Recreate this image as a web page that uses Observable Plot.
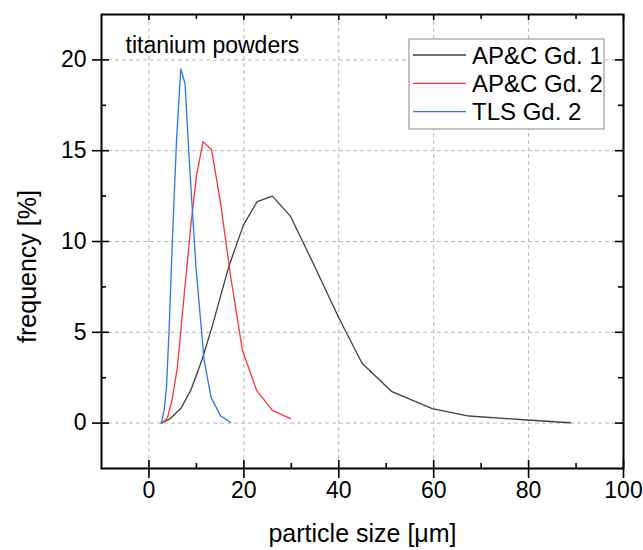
<!DOCTYPE html>
<html>
<head>
<meta charset="utf-8">
<script src="https://cdn.jsdelivr.net/npm/d3@7"></script>
<script src="https://cdn.jsdelivr.net/npm/@observablehq/plot@0.6"></script>
<style>
body { margin: 0; background: #fff; }
#chart svg { font-family: "Liberation Sans", Arial, sans-serif; }
</style>
</head>
<body>
<div id="chart"></div>
<script>
// particle size [µm] and frequency [%]
const apc1Size = [2.6, 4.5, 6.7, 8.8, 11.2, 13.3, 16.8, 19.9, 22.8, 26.0, 29.8, 34.6, 40.0, 44.9, 51.2, 59.7, 67.4, 79.7, 88.8];
const apc1Freq = [0, 0.25, 0.8, 1.8, 3.5, 5.3, 8.6, 10.9, 12.2, 12.5, 11.4, 8.8, 5.8, 3.3, 1.73, 0.8, 0.39, 0.17, 0.02];
const apc2Size = [2.8, 3.9, 4.9, 6.0, 7.4, 8.8, 10.0, 11.4, 13.2, 15.1, 17.2, 19.7, 22.7, 26.0, 29.8];
const apc2Freq = [0, 0.3, 1.3, 3.1, 7.0, 10.8, 13.6, 15.5, 15.05, 12.1, 8.1, 4.0, 1.8, 0.7, 0.25];
const tlsSize = [2.6, 3.2, 3.7, 4.3, 5.0, 5.8, 6.7, 7.6, 8.6, 9.9, 11.6, 13.1, 15.1, 17.2];
const tlsFreq = [0, 0.7, 2.0, 5.5, 10.5, 15.5, 19.5, 18.7, 14.0, 8.6, 3.5, 1.4, 0.4, 0.05];

const seriesNames = ["AP&C Gd. 1", "AP&C Gd. 2", "TLS Gd. 2"];
const seriesColors = ["#404040", "#ff3333", "#2a78e4"];

const xMajor = [0, 20, 40, 60, 80, 100];
const xMinor = [10, 30, 50, 70, 90];
const xGrid = [0, 20, 40, 60, 80];
const yMajor = [0, 5, 10, 15, 20];
const yMinor = [2.5, 7.5, 12.5, 17.5];
const xDomain = [-10, 100];
const yDomain = [-2.5, 22.5];

const xLabel = "particle size [μm]";
const yLabel = "frequency [%]";
const annotation = "titanium powders";

const rows = [];
[[apc1Size, apc1Freq], [apc2Size, apc2Freq], [tlsSize, tlsFreq]].forEach(([s, f], k) => {
  s.forEach((v, i) => rows.push({series: seriesNames[k], size: v, freq: f[i]}));
});

const font = 23;
const titleFont = 25;
const tickStyle = {stroke: "black", strokeWidth: 1.6};

const plot = Plot.plot({
  width: 643,
  height: 550,
  marginLeft: 101,
  marginRight: 20,
  marginTop: 14,
  marginBottom: 82,
  style: {fontFamily: "Liberation Sans, Arial, sans-serif", background: "white"},
  x: {domain: xDomain},
  y: {domain: yDomain},
  color: {domain: seriesNames, range: seriesColors},
  marks: [
    Plot.gridX(xGrid, {stroke: "#b8b8b8", strokeOpacity: 1, strokeDasharray: "4,3"}),
    Plot.gridY(yMajor, {stroke: "#b8b8b8", strokeOpacity: 1, strokeDasharray: "4,3"}),
    Plot.axisX(xMajor, {tickSize: 0, tickPadding: 13, fontSize: font, label: null, fill: "black"}),
    Plot.axisY(yMajor, {tickSize: 0, tickPadding: 15, fontSize: font, label: null, fill: "black"}),
    Plot.line(rows, {x: "size", y: "freq", z: "series", stroke: "series", strokeWidth: 1.3}),
    // bottom ticks (crossing the frame)
    Plot.ruleX(xMajor, {x: d => d, y1: yDomain[0], y2: yDomain[0], insetTop: -8, insetBottom: -10, ...tickStyle}),
    Plot.ruleX(xMinor, {x: d => d, y1: yDomain[0], y2: yDomain[0], insetTop: -5, insetBottom: 0, ...tickStyle}),
    // top ticks (inward)
    Plot.ruleX(xMajor, {x: d => d, y1: yDomain[1], y2: yDomain[1], insetTop: 0, insetBottom: -6, ...tickStyle}),
    Plot.ruleX(xMinor, {x: d => d, y1: yDomain[1], y2: yDomain[1], insetTop: 0, insetBottom: -5, ...tickStyle}),
    // left ticks (crossing)
    Plot.ruleY(yMajor, {y: d => d, x1: xDomain[0], x2: xDomain[0], insetLeft: -9, insetRight: -8, ...tickStyle}),
    Plot.ruleY(yMinor, {y: d => d, x1: xDomain[0], x2: xDomain[0], insetLeft: 0, insetRight: -5, ...tickStyle}),
    // right ticks (inward)
    Plot.ruleY(yMajor, {y: d => d, x1: xDomain[1], x2: xDomain[1], insetLeft: -8, insetRight: 0, ...tickStyle}),
    Plot.ruleY(yMinor, {y: d => d, x1: xDomain[1], x2: xDomain[1], insetLeft: -5, insetRight: 0, ...tickStyle}),
    Plot.frame({stroke: "black", strokeWidth: 2}),
    Plot.text([annotation], {frameAnchor: "top-left", dx: 24, dy: 31, textAnchor: "start", lineAnchor: "middle", fontSize: font, fill: "black"}),
    Plot.text([xLabel], {frameAnchor: "bottom", dy: 65, textAnchor: "middle", lineAnchor: "middle", fontSize: titleFont, fill: "black"}),
    Plot.text([yLabel], {frameAnchor: "left", dx: -74, dy: 25, rotate: -90, textAnchor: "middle", lineAnchor: "middle", fontSize: titleFont, fill: "black"})
  ]
});

// legend box in the top-right of the frame
const svg = d3.select(plot);
const lg = svg.append("g").attr("transform", "translate(409,39)");
lg.append("rect").attr("width", 195).attr("height", 90).attr("fill", "white").attr("stroke", "#888").attr("stroke-width", 1);
seriesNames.forEach((name, i) => {
  const y = 16 + i * 28.3;
  lg.append("line").attr("x1", 4).attr("x2", 57).attr("y1", y).attr("y2", y)
    .attr("stroke", seriesColors[i]).attr("stroke-width", 1.3);
  lg.append("text").attr("x", 63).attr("y", y).attr("dy", "0.36em")
    .attr("text-anchor", "start")
    .attr("font-size", 24).attr("fill", "black").text(name);
});

document.getElementById("chart").appendChild(plot);
</script>
</body>
</html>
